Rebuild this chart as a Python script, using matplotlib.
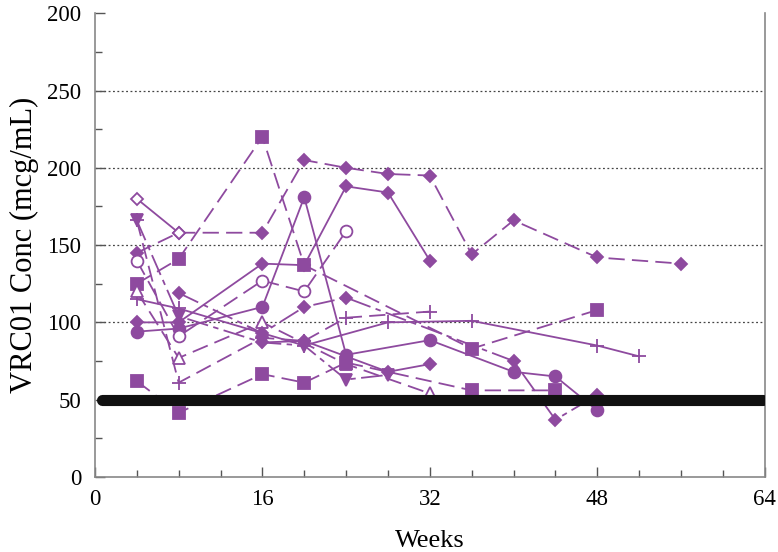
import matplotlib
matplotlib.use("Agg")
import matplotlib.pyplot as plt
from matplotlib.ticker import MultipleLocator

# participant curves (weeks, VRC01 conc)
wk_d1 = [4, 8, 16, 20, 24, 28, 32, 36, 40, 48, 56]
c_d1 = [145, 158, 158, 205, 200, 196, 195, 144, 166, 142, 138]
wk_od = [4, 8]
c_od = [180, 158]
wk_s1 = [4, 8, 16, 20, 36, 48]
c_s1 = [125, 141, 220, 137, 83, 108]
wk_d2 = [4, 8, 16, 20, 24, 28, 32]
c_d2 = [100, 100, 138, 137, 188, 184, 140]
wk_c1 = [4, 8, 16, 20, 24, 32, 40, 44, 48]
c_c1 = [94, 96, 110, 181, 79, 88.5, 68, 65, 43]
wk_oc = [4, 8, 16, 20, 24]
c_oc = [140, 91, 127, 120, 159]
wk_tr = [4, 8, 16, 20, 24, 28]
c_tr = [166, 104, 87, 85, 63, 66]
wk_p1 = [4, 8, 16, 20, 24, 32]
c_p1 = [166, 61, 90, 88, 103, 107]
wk_p2 = [4, 8, 20, 28, 36, 48, 52]
c_p2 = [115, 109, 85, 100, 101, 85, 78]
wk_ot = [4, 8, 16, 24, 32]
c_ot = [120, 77, 100, 73, 54]
wk_s2 = [4, 8, 16, 20, 24, 36, 44]
c_s2 = [62, 41.5, 66.5, 61, 74, 56, 56]
wk_d3 = [8, 16, 20, 24, 40, 44, 48]
c_d3 = [119, 93, 110, 116, 75, 37, 53]
wk_d4 = [16, 20, 28, 32]
c_d4 = [87, 88, 68, 73]

threshold = 50
y_ticks = [0, 50, 100, 150, 200, 250, 300]
y_labels = ["0", "50", "100", "150", "200", "250", "200"]
x_ticks = [0, 16, 32, 48, 64]

purple = "#8e4a9f"
plt.rcParams["font.family"] = ["Liberation Serif", "DejaVu Serif"]

fig = plt.figure(figsize=(7.78, 5.52), dpi=100)
ax = fig.add_axes([0.122, 0.136, 0.861, 0.840])

ld = (0, (9, 4))
dd = (0, (12, 3, 3, 3))
series = [
    (wk_d1, c_d1, "D", True, ld),
    (wk_od, c_od, "D", False, "-"),
    (wk_s1, c_s1, "s", True, ld),
    (wk_d2, c_d2, "D", True, "-"),
    (wk_c1, c_c1, "o", True, "-"),
    (wk_oc, c_oc, "o", False, ld),
    (wk_tr, c_tr, "v", True, dd),
    (wk_p1, c_p1, "+", True, ld),
    (wk_p2, c_p2, "+", True, "-"),
    (wk_ot, c_ot, "^", False, ld),
    (wk_s2, c_s2, "s", True, ld),
    (wk_d3, c_d3, "D", True, dd),
    (wk_d4, c_d4, "D", True, "-"),
]
sizes = {"D": 6, "s": 8.5, "o": 8.5, "v": 8.5, "^": 8.5, "+": 10}

for x, y, m, filled, ls in series:
    ax.plot(x, y, color=purple, lw=1.3, ls=ls, marker=m, ms=sizes[m],
            mfc=purple if filled else "white", mec=purple, mew=1.3, zorder=3)

for g in [100, 150, 200, 250]:
    ax.axhline(g, color="#444444", lw=0.9, ls=(0, (1.5, 2)), zorder=1)

ax.plot([0.7, 63.8], [threshold, threshold], color="#111111", lw=8,
        solid_capstyle="round", zorder=4)

ax.set_xlim(0, 64)
ax.set_ylim(0, 300)
ax.set_xticks(x_ticks)
ax.xaxis.set_minor_locator(MultipleLocator(4))
ax.set_yticks(y_ticks)
ax.set_yticklabels(y_labels)
ax.yaxis.set_minor_locator(MultipleLocator(25))
ax.tick_params(which="both", direction="in", colors="#555555", labelcolor="black",
               labelsize=16.5, width=1)
ax.tick_params(which="major", length=7)
ax.tick_params(which="minor", length=5)
ax.tick_params(axis="x", pad=9)
ax.tick_params(axis="y", pad=10)

ax.spines["top"].set_visible(False)
for s in ["left", "bottom", "right"]:
    ax.spines[s].set_color("#888888")
    ax.spines[s].set_linewidth(1.2)

ax.set_xlabel("Weeks", fontsize=19, labelpad=14)
ax.set_ylabel("VRC01 Conc (mcg/mL)", fontsize=22, labelpad=6)

fig.savefig("out.png", dpi=100)
